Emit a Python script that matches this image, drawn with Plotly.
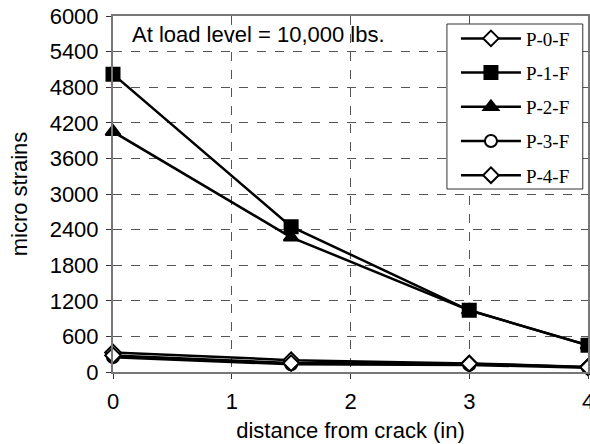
import plotly.graph_objects as go

distance = [0, 1.5, 3, 4]
series_names = ["P-0-F", "P-1-F", "P-2-F", "P-3-F", "P-4-F"]
p0f = [330, 200, 145, 85]
p1f = [5020, 2450, 1040, 450]
p2f = [4050, 2270, 1040, 450]
p3f = [250, 130, 120, 70]
p4f = [280, 150, 140, 80]
y_ticks = [0, 600, 1200, 1800, 2400, 3000, 3600, 4200, 4800, 5400, 6000]
x_ticks = [0, 1, 2, 3, 4]

values = [p0f, p1f, p2f, p3f, p4f]
symbols = ["diamond", "square", "triangle-up", "circle", "diamond"]
fills = ["white", "black", "black", "white", "white"]
sizes = [12, 13, 13, 12, 12]

fig = go.Figure()
for i, (name, vals) in enumerate(zip(series_names, values)):
    fig.add_trace(go.Scatter(
        x=distance, y=vals, name=name, mode="lines+markers",
        line=dict(color="black", width=2.5),
        marker=dict(symbol=symbols[i], size=sizes[i], color=fills[i],
                    line=dict(color="black", width=2)),
        legendgroup=name, cliponaxis=False,
    ))

# legend frame
fig.add_shape(type="rect", xref="paper", yref="paper",
              x0=0.703, x1=0.989, y0=0.514, y1=0.9775,
              line=dict(color="#333", width=1), fillcolor="white", layer="above")

fig.add_annotation(
    x=0.035, y=0.99, xref="paper", yref="paper", xanchor="left", yanchor="top",
    text="At load level = 10,000 lbs.", showarrow=False,
    font=dict(family="Liberation Sans, Arial", size=22, color="black"),
)

title_font = dict(family="Liberation Sans, Arial", size=22, color="black")

fig.update_layout(
    width=590, height=444,
    margin=dict(l=113, r=2, t=16, b=72),
    paper_bgcolor="white", plot_bgcolor="white",
    font=dict(family="Liberation Sans, Arial", size=22, color="black"),
    showlegend=True,
    legend=dict(
        x=0.722, y=0.99, xanchor="left", yanchor="top",
        bgcolor="rgba(0,0,0,0)", borderwidth=0,
        font=dict(family="Liberation Serif, Times New Roman", size=19, color="black"),
        traceorder="grouped", tracegroupgap=6.5, itemwidth=60,
    ),
    xaxis=dict(
        range=[0, 4], tickvals=x_ticks, ticktext=[str(t) for t in x_ticks],
        showgrid=True, gridcolor="#555", griddash="dash", gridwidth=1,
        showline=True, linecolor="#777", linewidth=2, mirror=True,
        ticks="outside", ticklen=5, tickcolor="#333", ticklabelstandoff=4,
        ticklabeloverflow="allow",
        title=dict(text="distance from crack (in)", standoff=9, font=title_font),
        zeroline=False, automargin=False,
    ),
    yaxis=dict(
        range=[0, 6000], tickvals=y_ticks, ticktext=[str(t) for t in y_ticks],
        showgrid=True, gridcolor="#555", griddash="dash", gridwidth=1,
        showline=True, linecolor="#777", linewidth=2, mirror=True,
        ticks="outside", ticklen=5, tickcolor="#333", ticklabelstandoff=3,
        title=dict(text="micro strains", standoff=16, font=title_font),
        zeroline=False, automargin=False,
    ),
)

fig.write_html("out.html", config={"displayModeBar": False},
               post_script="document.body.style.margin='0';document.body.style.overflow='hidden';")
